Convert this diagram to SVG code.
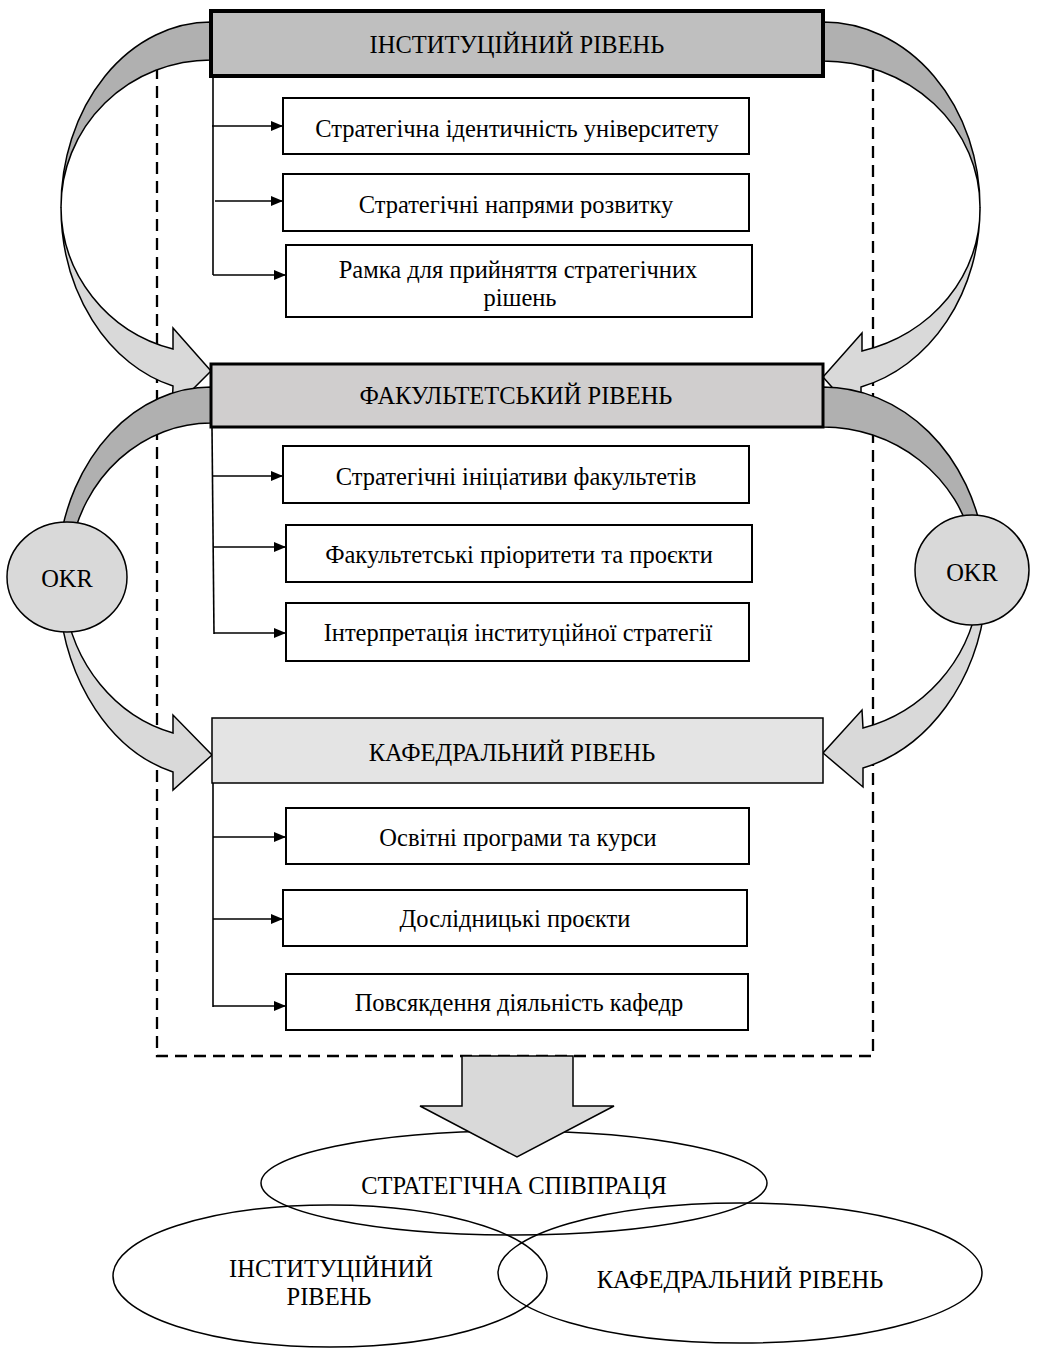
<svg xmlns="http://www.w3.org/2000/svg" width="1037" height="1351" viewBox="0 0 1037 1351">
<defs>
<style>
text{font-family:"Liberation Serif","Times New Roman",serif;font-size:24.5px;fill:#000;text-anchor:middle;dominant-baseline:central}
.sub{fill:#fff;stroke:#000;stroke-width:2}
.dark{fill:#b0b0b0;stroke:#000;stroke-width:1.5;stroke-linejoin:round}
.light{fill:#d9d9d9;stroke:#000;stroke-width:1.5;stroke-linejoin:miter}
.okr{fill:#d9d9d9;stroke:#000;stroke-width:1.5}
.conn{fill:none;stroke:#000;stroke-width:1.6}
.ell{fill:none;stroke:#000;stroke-width:1.5}
</style>
<marker id="ah" viewBox="0 0 12 10" refX="12" refY="5" markerWidth="12" markerHeight="10" markerUnits="userSpaceOnUse" orient="auto"><path d="M0,0 L12,5 L0,10 Z" fill="#000"/></marker>
</defs>
<rect width="1037" height="1351" fill="#fff"/>

<g id="frame">
<rect x="157" y="45" width="716" height="1011" fill="none" stroke="#000" stroke-width="2.3" stroke-dasharray="12 7"/>
</g>

<g id="ellipses">
<ellipse class="ell" cx="514" cy="1183" rx="253" ry="52"/>
<ellipse class="ell" cx="330" cy="1276" rx="217" ry="71"/>
<ellipse class="ell" cx="740" cy="1273" rx="242" ry="70"/>
</g>

<g id="connectors">
<path id="arrowA-dark" class="dark" d="M211,22 A150 185 0 0 0 61,207 A150 147 0 0 1 211,60 Z"/>
<path id="arrowA-light" class="light" d="M61,207 A150 185 0 0 0 173,386 L172,410 L211,371 L173,328 L173,349 A150 147 0 0 1 61,207 Z"/>
<path id="arrowC-dark" class="dark" d="M823,22 A157 185 0 0 1 980,207 A157 146 0 0 0 823,61 Z"/>
<path id="arrowC-light" class="light" d="M980,207 A157 185 0 0 1 861,387 L861,420 L823,377 L862,333 L862,351 A157 146 0 0 0 980,207 Z"/>
<path id="arrowB-dark" class="dark" d="M211,387 A154 191 0 0 0 58.7,550 L70.4,550 A143 155 0 0 1 211,423 Z"/>
<path id="arrowB-light" class="light" d="M58.9,600 A153 200 0 0 0 173,772 L173,790 L212,755 L173,715 L173,733 A148 160 0 0 1 64.4,600 Z"/>
<path id="arrowD-dark" class="dark" d="M823,387 A163 188 0 0 1 983.9,545 L972.8,545 A153 148 0 0 0 823,427 Z"/>
<path id="arrowD-light" class="light" d="M985.7,600 A164 199 0 0 1 863,768 L863,787 L823,753 L862,710 L863,728 A157 158 0 0 0 978,600 Z"/>
<path id="arrowDown" class="light" d="M462,1056 L573,1056 L573,1106 L614,1106 L517,1157 L420,1106 L462,1106 Z"/>

<line class="conn" x1="213" y1="76" x2="213" y2="275" stroke-width="1"/>
<line class="conn" x1="212" y1="126" x2="283" y2="126" marker-end="url(#ah)"/>
<line class="conn" x1="215" y1="201" x2="283" y2="201" marker-end="url(#ah)"/>
<line class="conn" x1="213" y1="275" x2="286" y2="275" marker-end="url(#ah)"/>

<line class="conn" x1="212" y1="428" x2="214" y2="634" stroke-width="1"/>
<line class="conn" x1="212" y1="476" x2="283" y2="476" marker-end="url(#ah)"/>
<line class="conn" x1="213" y1="547" x2="286" y2="547" marker-end="url(#ah)"/>
<line class="conn" x1="214" y1="633" x2="286" y2="633" marker-end="url(#ah)"/>

<line class="conn" x1="213" y1="783" x2="213" y2="1007" stroke-width="1"/>
<line class="conn" x1="213" y1="837" x2="286" y2="837" marker-end="url(#ah)"/>
<line class="conn" x1="213" y1="919" x2="283" y2="919" marker-end="url(#ah)"/>
<line class="conn" x1="213" y1="1006" x2="286" y2="1006" marker-end="url(#ah)"/>
</g>

<g id="okr-left"><ellipse class="okr" cx="67" cy="577" rx="60" ry="55"/><text x="67" y="578">OKR</text></g>
<g id="okr-right"><ellipse class="okr" cx="972" cy="570" rx="57" ry="55"/><text x="972" y="572">OKR</text></g>

<g id="level-institutional"><rect x="211" y="11" width="612" height="65" fill="#bfbfbf" stroke="#000" stroke-width="4"/><text x="517" y="44">ІНСТИТУЦІЙНИЙ РІВЕНЬ</text></g>
<g id="i1"><rect class="sub" x="283" y="98" width="466" height="56"/><text x="517" y="128">Стратегічна ідентичність університету</text></g>
<g id="i2"><rect class="sub" x="283" y="174" width="466" height="57"/><text x="516" y="204">Стратегічні напрями розвитку</text></g>
<g id="i3"><rect class="sub" x="286" y="245" width="466" height="72"/><text x="518" y="269">Рамка для прийняття стратегічних</text><text x="520" y="297">рішень</text></g>

<g id="level-faculty"><rect x="211" y="364" width="612" height="63" fill="#d0cece" stroke="#000" stroke-width="3"/><text x="516" y="395">ФАКУЛЬТЕТСЬКИЙ РІВЕНЬ</text></g>
<g id="f1"><rect class="sub" x="283" y="446" width="466" height="57"/><text x="516" y="476">Стратегічні ініціативи факультетів</text></g>
<g id="f2"><rect class="sub" x="286" y="525" width="466" height="57"/><text x="519" y="554">Факультетські пріоритети та проєкти</text></g>
<g id="f3"><rect class="sub" x="286" y="603" width="463" height="58"/><text x="518" y="632">Інтерпретація інституційної стратегії</text></g>

<g id="level-department"><rect x="212" y="718" width="611" height="65" fill="#e4e4e4" stroke="#000" stroke-width="1.5"/><text x="512" y="752">КАФЕДРАЛЬНИЙ РІВЕНЬ</text></g>
<g id="k1"><rect class="sub" x="286" y="808" width="463" height="56"/><text x="518" y="837">Освітні програми та курси</text></g>
<g id="k2"><rect class="sub" x="283" y="890" width="464" height="56"/><text x="515" y="918">Дослідницькі проєкти</text></g>
<g id="k3"><rect class="sub" x="286" y="974" width="462" height="56"/><text x="519" y="1002">Повсякдення діяльність кафедр</text></g>

<g id="cooperation">
<text x="514" y="1185">СТРАТЕГІЧНА СПІВПРАЦЯ</text>
<text x="331" y="1268">ІНСТИТУЦІЙНИЙ</text>
<text x="329" y="1296">РІВЕНЬ</text>
<text x="740" y="1279">КАФЕДРАЛЬНИЙ РІВЕНЬ</text>
</g>
</svg>
